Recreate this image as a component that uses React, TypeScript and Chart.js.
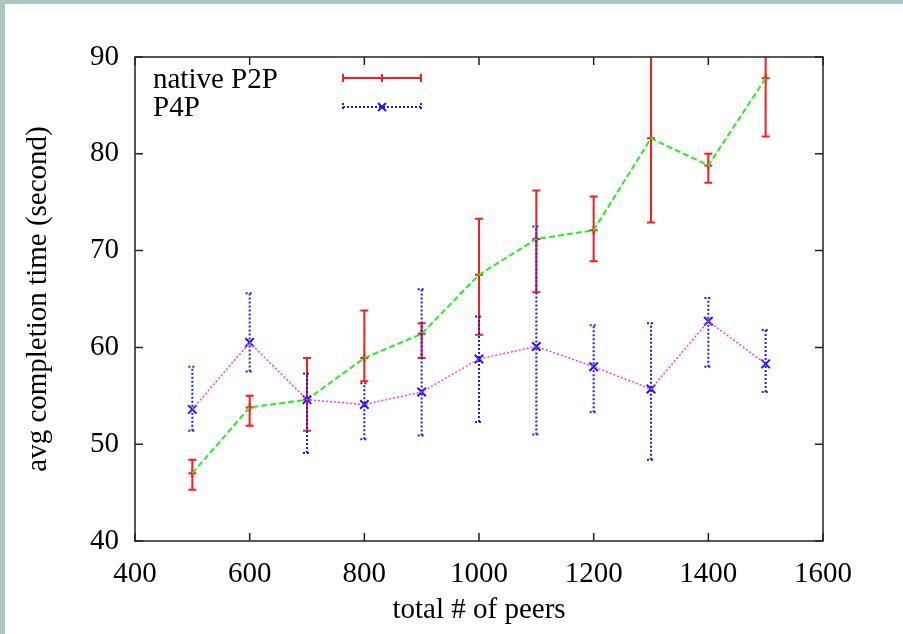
import React, { useEffect, useRef } from "react";
import { Chart, registerables } from "chart.js";

Chart.register(...registerables);

// ---- data ----
const peers = [500, 600, 700, 800, 900, 1000, 1100, 1200, 1300, 1400, 1500];
const p2pMean = [47.0, 53.8, 54.6, 58.9, 61.4, 67.5, 71.2, 72.1, 81.6, 78.8, 87.8];
const p2pLow = [45.3, 51.9, 51.4, 56.5, 58.9, 61.3, 65.7, 68.9, 72.9, 77.0, 81.8];
const p2pHigh = [48.4, 55.0, 58.9, 63.8, 62.5, 73.3, 76.2, 75.6, 90.3, 80.0, 93.8];
const p4pMean = [53.6, 60.5, 54.6, 54.1, 55.4, 58.8, 60.1, 58.0, 55.7, 62.7, 58.3];
const p4pLow = [51.4, 57.5, 49.1, 50.5, 50.9, 52.3, 51.0, 53.3, 48.4, 58.0, 55.4];
const p4pHigh = [58.0, 65.6, 57.3, 56.3, 66.0, 63.2, 72.5, 62.3, 62.5, 65.1, 61.8];
const seriesNames = ["native P2P", "P4P"];
const xTitle = "total # of peers";
const yTitle = "avg completion time (second)";
const xRange = [400, 1600, 200];
const yRange = [40, 90, 10];

const FONT = "'Liberation Serif', 'Times New Roman', serif";
const FS = 29;
const RED = "#ff1a1a";
const BLUE = "#1a1aff";
const GREEN = "#22ee22";
const MAGENTA = "#ff33ff";

function drawBars(ctx: CanvasRenderingContext2D, chart: any, lows: number[], highs: number[], color: string, dash: number[]) {
  const xs = chart.scales.x;
  const ys = chart.scales.y;
  const a = chart.chartArea;
  ctx.save();
  ctx.beginPath();
  ctx.rect(a.left, a.top, a.right - a.left, a.bottom - a.top);
  ctx.clip();
  ctx.strokeStyle = color;
  ctx.lineWidth = 2;
  ctx.setLineDash(dash);
  for (let i = 0; i < peers.length; i++) {
    const px = xs.getPixelForValue(peers[i]);
    const y1 = ys.getPixelForValue(lows[i]);
    const y2 = ys.getPixelForValue(highs[i]);
    ctx.beginPath();
    ctx.moveTo(px, y1);
    ctx.lineTo(px, y2);
    ctx.moveTo(px - 4, y1);
    ctx.lineTo(px + 4, y1);
    ctx.moveTo(px - 4, y2);
    ctx.lineTo(px + 4, y2);
    ctx.stroke();
  }
  ctx.restore();
}

const customPlugin = {
  id: "gnuplotLook",
  beforeDraw(chart: any) {
    const ctx = chart.ctx;
    ctx.save();
    ctx.fillStyle = "#ffffff";
    ctx.fillRect(0, 0, chart.width, chart.height);
    ctx.fillStyle = "#aec4c2";
    ctx.fillRect(0, 0, 5, chart.height);
    ctx.fillRect(0, 0, chart.width, 4);
    ctx.restore();
  },
  beforeDatasetDraw(chart: any, args: any) {
    const ctx = chart.ctx;
    if (args.index === 0) drawBars(ctx, chart, p2pLow, p2pHigh, RED, []);
    if (args.index === 2) drawBars(ctx, chart, p4pLow, p4pHigh, BLUE, [2, 2]);
  },
  afterDraw(chart: any) {
    const ctx = chart.ctx;
    const a = chart.chartArea;
    const xs = chart.scales.x;
    const ys = chart.scales.y;
    ctx.save();
    // frame
    ctx.strokeStyle = "#222222";
    ctx.lineWidth = 1.5;
    ctx.setLineDash([]);
    ctx.strokeRect(a.left, a.top, a.right - a.left, a.bottom - a.top);
    // inward ticks
    ctx.beginPath();
    const tl = 8;
    xs.ticks.forEach((t: any) => {
      const px = xs.getPixelForValue(t.value);
      ctx.moveTo(px, a.bottom);
      ctx.lineTo(px, a.bottom - tl);
      ctx.moveTo(px, a.top);
      ctx.lineTo(px, a.top + tl);
    });
    ys.ticks.forEach((t: any) => {
      const py = ys.getPixelForValue(t.value);
      ctx.moveTo(a.left, py);
      ctx.lineTo(a.left + tl, py);
      ctx.moveTo(a.right, py);
      ctx.lineTo(a.right - tl, py);
    });
    ctx.stroke();

    // legend
    ctx.font = `${FS}px ${FONT}`;
    ctx.fillStyle = "#000000";
    ctx.textAlign = "left";
    ctx.textBaseline = "alphabetic";
    ctx.fillText(seriesNames[0], 153, 88);
    ctx.fillText(seriesNames[1], 153, 116);

    const lx1 = 343, lx2 = 421, lm = 382;
    // red sample
    ctx.strokeStyle = RED;
    ctx.lineWidth = 2;
    ctx.beginPath();
    ctx.moveTo(lx1, 78); ctx.lineTo(lx2, 78);
    ctx.moveTo(lx1, 74); ctx.lineTo(lx1, 82);
    ctx.moveTo(lx2, 74); ctx.lineTo(lx2, 82);
    ctx.moveTo(lm, 74); ctx.lineTo(lm, 82);
    ctx.stroke();
    // blue sample
    ctx.strokeStyle = BLUE;
    ctx.setLineDash([2, 2]);
    ctx.beginPath();
    ctx.moveTo(lx1, 107); ctx.lineTo(lx2, 107);
    ctx.moveTo(lx1, 103); ctx.lineTo(lx1, 111);
    ctx.moveTo(lx2, 103); ctx.lineTo(lx2, 111);
    ctx.stroke();
    ctx.setLineDash([]);
    ctx.beginPath();
    ctx.moveTo(lm - 4, 103); ctx.lineTo(lm + 4, 111);
    ctx.moveTo(lm - 4, 111); ctx.lineTo(lm + 4, 103);
    ctx.stroke();
    ctx.restore();
  },
};

export default function App() {
  const ref = useRef<HTMLCanvasElement | null>(null);
  useEffect(() => {
    if (!ref.current) return;
    Chart.defaults.font.family = FONT;
    Chart.defaults.color = "#000000";
    const pts = (ys: number[]) => peers.map((x, i) => ({ x, y: ys[i] }));
    const chart = new Chart(ref.current, {
      type: "line",
      data: {
        datasets: [
          {
            label: seriesNames[0],
            data: pts(p2pMean),
            showLine: false,
            pointStyle: "cross",
            pointRadius: 4,
            pointBorderWidth: 2,
            pointBorderColor: RED,
            pointBackgroundColor: RED,
            borderColor: RED,
            order: 4,
          },
          {
            label: "p2p line",
            data: pts(p2pMean),
            borderColor: GREEN,
            borderWidth: 2,
            borderDash: [6, 3],
            pointRadius: 0,
            fill: false,
            order: 3,
          },
          {
            label: seriesNames[1],
            data: pts(p4pMean),
            showLine: false,
            pointStyle: "crossRot",
            pointRadius: 6,
            pointBorderWidth: 2,
            pointBorderColor: BLUE,
            pointBackgroundColor: BLUE,
            borderColor: BLUE,
            order: 2,
          },
          {
            label: "p4p line",
            data: pts(p4pMean),
            borderColor: MAGENTA,
            borderWidth: 1.5,
            borderDash: [2, 2],
            pointRadius: 0,
            fill: false,
            order: 1,
          },
        ],
      },
      options: {
        animation: false,
        responsive: false,
        maintainAspectRatio: false,
        layout: { padding: { left: 0, top: 57, right: 80, bottom: 0 } },
        plugins: { legend: { display: false }, tooltip: { enabled: false } },
        scales: {
          x: {
            type: "linear",
            position: "bottom",
            min: xRange[0],
            max: xRange[1],
            grid: { display: false },
            border: { display: false },
            ticks: {
              stepSize: xRange[2],
              padding: 8,
              font: { size: FS },
              maxRotation: 0,
              autoSkip: false,
              callback: (v: any) => String(v),
            },
            title: { display: true, text: xTitle, font: { size: FS }, padding: { top: 0, bottom: 6 } },
            afterFit: (s: any) => { s.height = 93; },
          },
          y: {
            type: "linear",
            min: yRange[0],
            max: yRange[1],
            grid: { display: false },
            border: { display: false },
            ticks: { stepSize: yRange[2], padding: 8, font: { size: FS }, callback: (v: any) => String(v) },
            title: { display: true, text: yTitle, font: { size: FS }, padding: { top: 21, bottom: 0 } },
            afterFit: (s: any) => { s.width = 135; },
          },
        },
      },
      plugins: [customPlugin],
    });
    return () => chart.destroy();
  }, []);
  return (
    <div style={{ position: "absolute", left: 0, top: 0, width: 903, height: 634 }}>
      <canvas ref={ref} width={903} height={634} style={{ display: "block" }} />
    </div>
  );
}
